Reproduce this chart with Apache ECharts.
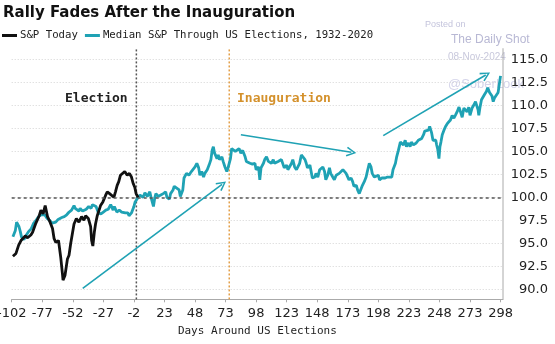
<!DOCTYPE html>
<html><head><meta charset="utf-8">
<script src="https://cdn.jsdelivr.net/npm/echarts@6/dist/echarts.min.js"></script>
<style>html,body{margin:0;padding:0;background:#fff}#c{width:555px;height:344px}</style>
</head><body><div id="c"></div>
<script>
const titleText = 'Rally Fades After the Inauguration';
const seriesNames = ['S&P Today', 'Median S&P Through US Elections, 1932-2020'];
const xAxisName = 'Days Around US Elections';
const eventLabels = ['Election', 'Inauguration'];
const electionDay = 0;
const inaugurationDay = 76;
const baseline = 100;
const xMin = -102, xMax = 300, xStep = 25;
const yMin = 90, yMax = 115, yStep = 2.5;
const lineSpan = [88.9, 116.2];

const medianDays = [-101,-99,-98,-96,-95,-94,-92,-90,-88,-86,-84,-82,-80,-78,-77,-75,-73,-71,-69,-66,-64,-63,-61,-59,-57,-55,-53,-51,-50,-47,-46,-44,-41,-39,-37,-36,-33,-31,-29,-27,-25,-23,-21,-19,-18,-16,-14,-12,-9,-7,-6,-4,-2,-1,
1,3,5.5,7,9,11,12,14,15,16,18,20,22,24,25,27,28,30,31,33,35,36,38,39,41,43,45,46,48,49.5,51,52,53.5,55,56,58,59.5,61,62,63,64,66,67,68,70,71,72.5,74,75,77,78,79,81,82,84,85.5,87,89,90,91.5,93,95,
97,98,100,101,102,104,105,106.5,108,109,110.5,112,113,114.6,116,117,118.7,120,121,123,124,125,127,128,129.5,131,132,133.6,135,136,138,139,140,142,143,144,146,147,148.5,150,151,152.6,154,155,156.6,158,159,160.7,162,163.5,165,166,167.5,169,170,171.6,173,174,175.7,177,178,180,181,182.4,184,185,186.5,188,189,190.6,192,193,194.7,196,198,
199,201,203.6,205.5,207,209,210,212,213,214.4,216,217,218.5,220,221,222.6,224,225,226.7,228,229,230.7,232,233.5,235,236,237.6,239,240,241.6,242.7,243.5,245,245.7,246.5,247.6,248.4,249.2,250.3,251.7,253,254.4,255.7,257,258.4,259.8,261,262.5,264,265,266.6,268,269,270.6,272,273,274.7,276,277.5,279,279.6,280.2,281.2,282.4,283.7,285,286.4,287.5,289,290,291,292,293,294.6,296,297,298];
const medianVals = [95.7,96.4,97.3,96.8,96.3,95.7,95.4,95.9,96.3,96.6,97.2,97.5,97.9,98.1,98.3,98.1,97.7,97.5,97.2,97.3,97.6,97.5,97.8,97.9,98.1,98.4,98.6,99.1,98.8,98.5,98.8,98.5,98.7,99.0,98.8,99.2,99.0,98.3,98.2,98.4,98.6,98.7,99.2,98.6,99.0,98.4,98.6,98.4,98.3,98.3,98.0,98.3,99.0,99.5,
99.9,100.25,100.0,100.5,100.1,100.6,100.0,99.0,99.9,100.4,100.1,100.25,100.4,100.6,100.0,99.8,100.4,100.8,101.2,101.0,100.8,100.1,100.8,102.1,102.6,102.4,102.8,102.6,103.3,103.7,103.2,102.4,102.8,102.2,102.6,103.0,103.5,104.1,105.1,105.5,104.8,104.2,104.6,104.1,104.4,103.9,103.3,102.8,103.2,104.2,105.3,105.5,105.0,105.2,105.3,104.8,105.1,104.4,103.9,104.1,103.7,103.6,
103.7,103.0,103.3,101.9,103.2,103.7,104.1,104.4,103.9,104.1,103.7,104.1,103.7,103.5,103.9,103.7,104.1,103.9,103.2,103.5,103.0,103.2,103.7,104.1,103.3,103.0,102.8,103.7,104.6,104.8,104.1,103.7,103.2,103.5,102.8,102.1,102.2,102.6,102.2,103.0,103.2,103.3,102.8,101.9,102.4,103.2,102.6,102.2,101.9,102.4,102.2,102.6,102.8,103.0,103.2,102.6,102.2,101.9,102.1,101.7,101.2,101.3,100.8,100.4,100.6,101.3,101.7,102.2,102.8,103.7,103.3,102.6,102.2,102.1,102.4,
101.9,102.1,102.1,102.2,102.1,102.2,103.0,103.7,104.4,105.1,106.0,106.2,105.7,106.2,105.5,105.9,105.5,106.0,105.7,105.5,105.9,106.2,106.0,106.4,106.8,107.2,107.1,107.3,107.7,107.0,106.2,106.0,106.2,105.7,105.3,104.2,105.5,106.0,106.8,107.3,107.7,108.0,107.9,108.4,108.9,108.6,108.9,109.3,109.8,109.4,108.7,109.7,109.8,109.3,109.8,108.9,109.7,110.0,110.4,110.2,109.5,108.9,109.8,110.6,110.8,111.2,111.5,111.9,111.4,111.2,111.0,110.4,110.8,111.0,111.4,112.3,113.2];

const todayDays = [-101,-98.5,-96.3,-94.4,-93,-90.9,-89,-86.3,-84.9,-82.2,-79.5,-78.1,-76.3,-74.6,-72.7,-70.6,-68.6,-67.3,-65.9,-63.7,-61.9,-60.5,-60,-58.4,-56.4,-55.1,-53.7,-52.3,-51,-49.1,-47,-44.8,-42.9,-41.5,-39.3,-37.4,-36.6,-35.6,-34.4,-33.4,-32,-29.3,-27.4,-25.2,-23.8,-21.9,-20.3,-18.4,-17.1,-15.7,-14.4,-13,-11.6,-9.5,-7.5,-5.7,-4,-2.6,-1.3,-0.2,1.4];
const todayVals = [93.6,93.9,94.8,95.3,95.1,95.8,95.6,95.9,96.2,97.2,98.0,98.6,98.2,99.1,97.9,97.3,96.6,95.5,95.1,95.3,93.5,91.7,91.0,91.5,93.3,93.7,95.0,96.1,97.1,97.7,97.3,97.9,97.5,98.0,97.7,96.8,95.3,94.7,96.2,97.1,98.0,99.1,99.5,100.2,100.6,100.4,100.6,100.0,100.6,101.3,101.7,102.4,102.6,102.8,102.4,102.6,102.2,101.5,101.1,100.4,100.0];

const arrows = [
  [[-43.9, 90.1], [70.1, 101.4]],
  [[85.5, 106.8], [175.9, 104.9]],
  [[202, 106.7], [285.9, 113.3]]
];

const teal = '#1fa2b4';
const mono = 'DejaVu Sans Mono';
const pair = (xs, ys) => xs.map((d, i) => [d, ys[i]]);

const chart = echarts.init(document.getElementById('c'), null, {renderer: 'canvas'});
chart.setOption({
  animation: false,
  backgroundColor: '#fff',
  title: {text: titleText, left: 3, top: 6, padding: 0,
    textStyle: {fontFamily: 'DejaVu Sans', fontWeight: 'bold', fontSize: 15, color: '#111'}},
  legend: {data: [seriesNames[0], seriesNames[1]], left: 2, top: 30, padding: 0,
    icon: 'rect', itemWidth: 15, itemHeight: 3, itemGap: 7,
    textStyle: {fontFamily: mono, fontSize: 10.7, color: '#222', padding: [0, 0, 0, -2]}},
  grid: {left: 11.7, right: 52, top: 59.3, bottom: 54.7, containLabel: false, outerBoundsMode: 'none'},
  xAxis: {type: 'value', min: xMin, max: xMax, interval: xStep, offset: 10,
    name: xAxisName, nameLocation: 'middle', nameGap: 18,
    nameTextStyle: {fontFamily: mono, fontSize: 11, color: '#222'},
    axisLine: {show: true, lineStyle: {color: '#aaa', width: 1}},
    axisTick: {show: true, length: 3, lineStyle: {color: '#aaa'}},
    axisLabel: {fontFamily: 'DejaVu Sans', fontSize: 13, color: '#222', margin: 8, showMaxLabel: false},
    splitLine: {show: false}},
  yAxis: {type: 'value', position: 'right', min: yMin, max: yMax, interval: yStep,
    axisLine: {show: false}, axisTick: {show: false},
    axisLabel: {fontFamily: 'DejaVu Sans', fontSize: 13, color: '#222', margin: 45, align: 'right',
      formatter: v => v.toFixed(1)},
    splitLine: {show: true, lineStyle: {color: '#d4d4d4', type: [1, 2], width: 1}}},
  graphic: [
    {type: 'text', left: 65, top: 92, style: {text: eventLabels[0], font: 'bold 13px "DejaVu Sans Mono"', fill: '#222'}},
    {type: 'text', left: 237, top: 92, style: {text: eventLabels[1], font: 'bold 13px "DejaVu Sans Mono"', fill: '#d4912c'}},
    {type: 'text', left: 425, top: 20, style: {text: 'Posted on', font: '9px "Liberation Sans"', fill: '#c4c4dc'}},
    {type: 'text', left: 451, top: 34, style: {text: 'The Daily Shot', font: '12px "Liberation Sans"', fill: '#b8b8d4'}},
    {type: 'text', left: 448, top: 52, style: {text: '08-Nov-2024', font: '10px "Liberation Sans"', fill: '#c8c8dc'}},
    {type: 'text', left: 448, top: 78, style: {text: '@SoberLook', font: '13px "Liberation Sans"', fill: '#d4d4ea'}}
  ],
  series: [
    {name: 'electionLine', type: 'line', data: [[electionDay, lineSpan[0]], [electionDay, lineSpan[1]]],
      showSymbol: false, clip: false, silent: true, z: 1,
      lineStyle: {color: '#555', width: 1.5, type: [2, 2]}},
    {name: 'inaugLine', type: 'line', data: [[inaugurationDay, lineSpan[0]], [inaugurationDay, lineSpan[1]]],
      showSymbol: false, clip: false, silent: true, z: 1,
      lineStyle: {color: '#e3a04a', width: 1.5, type: [2, 2]}},
    {name: 'rightAxis', type: 'line', data: [[xMax, lineSpan[0]], [xMax, lineSpan[1]]],
      showSymbol: false, clip: false, silent: true, z: 1,
      lineStyle: {color: '#aaa', width: 1}},
    {name: seriesNames[1], type: 'line', data: pair(medianDays, medianVals), color: teal,
      showSymbol: false, symbol: 'none', z: 3,
      lineStyle: {color: teal, width: 2.8},
      markLine: {silent: true, symbol: 'none', label: {show: false},
        lineStyle: {color: '#555', width: 1.5, type: [3, 3]},
        data: [{yAxis: baseline}]}},
    {name: seriesNames[0], type: 'line', data: pair(todayDays, todayVals), color: '#111',
      showSymbol: false, symbol: 'none', z: 4,
      lineStyle: {color: '#111', width: 2.8}},
    {name: 'arrows', type: 'line', data: [], z: 5,
      markLine: {silent: true, label: {show: false},
        symbol: ['none', 'path://M5,0 L10,9 L8.6,9.8 L5,2.8 L1.4,9.8 L0,9 Z'], symbolSize: 10,
        lineStyle: {color: teal, width: 1.6, type: 'solid'},
        data: arrows.map(a => [{coord: a[0]}, {coord: a[1]}])}}
  ]
});
</script></body></html>
